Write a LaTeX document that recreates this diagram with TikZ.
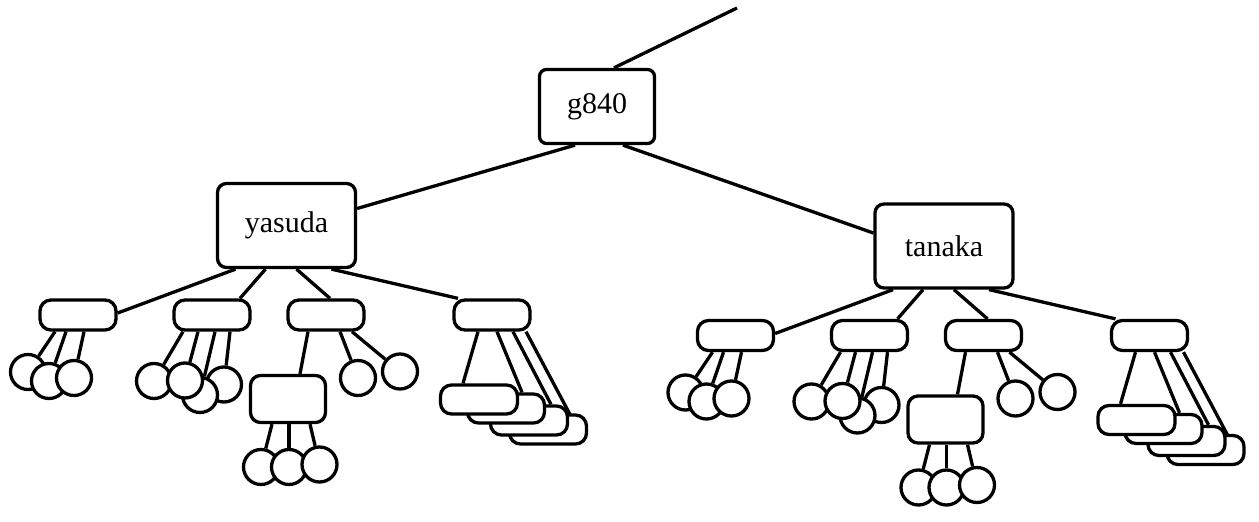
\documentclass[tikz,border=0pt]{standalone}
\usepackage{fontspec}
\setmainfont{Liberation Serif}
\usepackage{tikz}
\usetikzlibrary{backgrounds}

\begin{document}
\begin{tikzpicture}[
x = 1pt, y = -1pt,
mainrect/.style={rectangle, align = center, draw = black, fill = white, line width = 3.3pt,
inner sep = 0pt, minimum width = 138pt, minimum height = 84pt, rounded corners = 9pt,
font = \fontsize{30}{35}\selectfont},
grprect/.style={rectangle, draw = black, fill = white, line width = 3.3pt,
inner sep = 0pt, minimum width = 76pt, minimum height = 30pt, rounded corners = 11pt},
subrect/.style={rectangle, draw = black, fill = white, line width = 3.3pt,
inner sep = 0pt, minimum width = 75pt, minimum height = 47pt, rounded corners = 10pt},
stackrect/.style={rectangle, draw = black, fill = white, line width = 3.3pt,
inner sep = 0pt, minimum width = 77pt, minimum height = 29pt, rounded corners = 11pt},
leafcirc/.style={circle, draw = black, fill = white, line width = 3.3pt,
inner sep = 0pt, minimum size = 35pt},
treeline/.style={draw = black, line width = 3.3pt}]

\useasboundingbox (0,0) rectangle (1259,522);

\node[mainrect, minimum width = 115pt, minimum height = 74pt, rounded corners = 7pt] (g840) at (597,106.5) {g840};
\coordinate (up) at (737,8);

% yasuda
\node[mainrect] (yasuda) at (286.5,225.5) {yasuda};
\node[grprect] (y1) at (78,315) {};
\node[grprect] (y2) at (212,315) {};
\node[grprect] (y3) at (326,315) {};
\node[grprect] (y4) at (492,315) {};

\node[leafcirc] (y1a) at (28,372) {};
\node[leafcirc] (y1b) at (49,381) {};
\node[leafcirc] (y1c) at (74,378) {};

\node[leafcirc] (y2a) at (154,381) {};
\node[leafcirc] (y2d) at (224,384.5) {};
\node[leafcirc] (y2c) at (200,395) {};
\node[leafcirc] (y2b) at (185,380.5) {};

\node[subrect] (y3s) at (288,399) {};
\node[leafcirc] (y3a) at (358,378) {};
\node[leafcirc] (y3b) at (400,371.5) {};
\node[leafcirc] (y3sa) at (261,467) {};
\node[leafcirc] (y3sb) at (289,467) {};
\node[leafcirc] (y3sc) at (319.5,464.5) {};

\node[stackrect] (y4d) at (548,429.5) {};
\node[stackrect] (y4c) at (529,420.5) {};
\node[stackrect] (y4b) at (506,408.5) {};
\node[stackrect] (y4a) at (479,399.5) {};

% tanaka
\node[mainrect] (tanaka) at (944,246) {tanaka};
\node[grprect] (t1) at (735.5,335.5) {};
\node[grprect] (t2) at (869.5,335.5) {};
\node[grprect] (t3) at (983.5,335.5) {};
\node[grprect] (t4) at (1149.5,335.5) {};

\node[leafcirc] (t1a) at (685.5,392.5) {};
\node[leafcirc] (t1b) at (706.5,401.5) {};
\node[leafcirc] (t1c) at (731.5,398.5) {};

\node[leafcirc] (t2a) at (811.5,401.5) {};
\node[leafcirc] (t2d) at (881.5,405) {};
\node[leafcirc] (t2c) at (857.5,415.5) {};
\node[leafcirc] (t2b) at (842.5,401) {};

\node[subrect] (t3s) at (945.5,419.5) {};
\node[leafcirc] (t3a) at (1015.5,398.5) {};
\node[leafcirc] (t3b) at (1057.5,392) {};
\node[leafcirc] (t3sa) at (918.5,487.5) {};
\node[leafcirc] (t3sb) at (946.5,487.5) {};
\node[leafcirc] (t3sc) at (977,485) {};

\node[stackrect] (t4d) at (1205.5,450) {};
\node[stackrect] (t4c) at (1186.5,441) {};
\node[stackrect] (t4b) at (1163.5,429) {};
\node[stackrect] (t4a) at (1136.5,420) {};

\begin{scope}[on background layer]
\draw[treeline] ([xshift=17pt]g840.north) -- (up);
\draw[treeline] ([xshift=-22pt]g840.south) -- ([yshift=17pt]yasuda.east);
\draw[treeline] ([xshift=26pt]g840.south) -- ([yshift=13pt]tanaka.west);

\draw[treeline] ([xshift=-51pt]yasuda.south) -- ([yshift=2pt]y1.east);
\draw[treeline] ([xshift=-21pt]yasuda.south) -- ([xshift=28pt]y2.north);
\draw[treeline] ([xshift=10pt]yasuda.south) -- ([xshift=4pt]y3.north);
\draw[treeline] ([xshift=45pt]yasuda.south) -- ([xshift=-34pt]y4.north);
\draw[treeline] ([xshift=-23pt]y1.south) -- (y1a);
\draw[treeline] ([xshift=-12pt]y1.south) -- (y1b);
\draw[treeline] ([xshift=6pt]y1.south) -- (y1c);
\draw[treeline] ([xshift=-29pt]y2.south) -- (y2a);
\draw[treeline] ([xshift=-14pt]y2.south) -- (y2b);
\draw[treeline] ([xshift=3pt]y2.south) -- (y2c);
\draw[treeline] ([xshift=18pt]y2.south) -- (y2d);
\draw[treeline] ([xshift=-18pt]y3.south) -- ([xshift=12pt]y3s.north);
\draw[treeline] ([xshift=14pt]y3.south) -- (y3a);
\draw[treeline] ([xshift=26pt]y3.south) -- (y3b);
\draw[treeline] ([xshift=-16pt]y3s.south) -- (y3sa);
\draw[treeline] ([xshift=1pt]y3s.south) -- (y3sb);
\draw[treeline] ([xshift=22pt]y3s.south) -- (y3sc);
\draw[treeline] ([xshift=-14pt]y4.south) -- ([xshift=-16pt]y4a.north);
\draw[treeline] ([xshift=5pt]y4.south) -- ([xshift=16pt]y4b.north);
\draw[treeline] ([xshift=21pt]y4.south) -- ([xshift=22pt]y4c.north);
\draw[treeline] ([xshift=34pt]y4.south) -- ([xshift=30pt]y4d.center);

\draw[treeline] ([xshift=-51pt]tanaka.south) -- ([yshift=2pt]t1.east);
\draw[treeline] ([xshift=-21pt]tanaka.south) -- ([xshift=28pt]t2.north);
\draw[treeline] ([xshift=10pt]tanaka.south) -- ([xshift=4pt]t3.north);
\draw[treeline] ([xshift=45pt]tanaka.south) -- ([xshift=-34pt]t4.north);
\draw[treeline] ([xshift=-23pt]t1.south) -- (t1a);
\draw[treeline] ([xshift=-12pt]t1.south) -- (t1b);
\draw[treeline] ([xshift=6pt]t1.south) -- (t1c);
\draw[treeline] ([xshift=-29pt]t2.south) -- (t2a);
\draw[treeline] ([xshift=-14pt]t2.south) -- (t2b);
\draw[treeline] ([xshift=3pt]t2.south) -- (t2c);
\draw[treeline] ([xshift=18pt]t2.south) -- (t2d);
\draw[treeline] ([xshift=-18pt]t3.south) -- ([xshift=12pt]t3s.north);
\draw[treeline] ([xshift=14pt]t3.south) -- (t3a);
\draw[treeline] ([xshift=26pt]t3.south) -- (t3b);
\draw[treeline] ([xshift=-16pt]t3s.south) -- (t3sa);
\draw[treeline] ([xshift=1pt]t3s.south) -- (t3sb);
\draw[treeline] ([xshift=22pt]t3s.south) -- (t3sc);
\draw[treeline] ([xshift=-14pt]t4.south) -- ([xshift=-16pt]t4a.north);
\draw[treeline] ([xshift=5pt]t4.south) -- ([xshift=16pt]t4b.north);
\draw[treeline] ([xshift=21pt]t4.south) -- ([xshift=22pt]t4c.north);
\draw[treeline] ([xshift=34pt]t4.south) -- ([xshift=30pt]t4d.center);
\end{scope}
\end{tikzpicture}
\end{document}
